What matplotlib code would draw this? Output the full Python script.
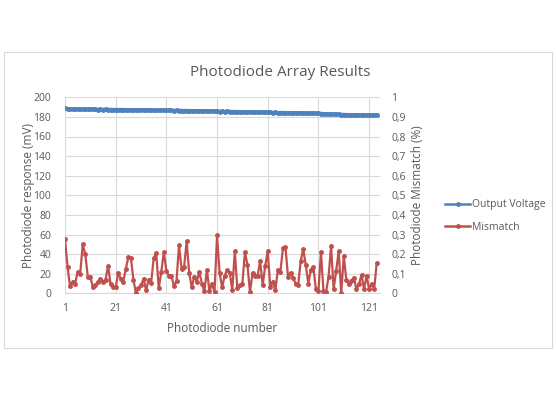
import numpy as np
import matplotlib.pyplot as plt
from matplotlib.patches import Rectangle
from matplotlib.lines import Line2D
from matplotlib.ticker import FuncFormatter

plt.rcParams['font.family'] = ['Open Sans', 'DejaVu Sans']

# --- data ---
output_voltage = [
    188.8, 188.3, 188.0, 187.9, 187.8, 187.8, 187.7, 187.8, 187.6, 187.7,
    187.6, 187.7, 187.6, 187.5, 187.6, 187.5, 187.6, 187.4, 187.5, 187.4,
    187.4, 187.3, 187.4, 187.3, 187.2, 187.3, 187.2, 187.1, 187.2, 187.0,
    187.1, 187.0, 186.9, 187.0, 186.8, 186.9, 186.7, 186.6, 186.8, 186.9,
    186.7, 186.6, 186.7, 186.5, 186.6, 186.4, 186.5, 186.3, 186.4, 186.3,
    186.2, 186.3, 186.1, 186.2, 186.0, 186.1, 185.9, 186.0, 185.8, 185.9,
    185.7, 185.5, 185.6, 185.4, 185.6, 185.5, 185.3, 185.4, 185.2, 185.3,
    185.1, 185.2, 185.0, 185.1, 184.9, 185.0, 184.8, 184.9, 184.7, 184.6,
    184.5, 184.6, 184.4, 184.5, 184.3, 184.4, 184.2, 184.3, 184.1, 184.2,
    184.0, 184.1, 183.9, 184.0, 183.8, 183.9, 183.7, 183.6, 183.7, 183.5,
    183.6, 183.4, 183.2, 183.0, 182.9, 182.8, 182.7, 182.6, 182.5, 182.4,
    182.3, 182.2, 182.2, 182.1, 182.0, 182.1, 181.9, 182.0, 181.9, 181.8,
    181.9, 181.8, 181.9, 182.0,
]

mismatch = [
    0.275, 0.135, 0.035, 0.06, 0.05, 0.11, 0.10, 0.25, 0.20, 0.085,
    0.085, 0.03, 0.04, 0.06, 0.075, 0.06, 0.07, 0.14, 0.045, 0.03,
    0.03, 0.105, 0.075, 0.06, 0.125, 0.185, 0.18, 0.07, 0.0, 0.025,
    0.04, 0.075, 0.015, 0.07, 0.055, 0.18, 0.205, 0.025, 0.11, 0.21,
    0.115, 0.09, 0.09, 0.035, 0.065, 0.245, 0.125, 0.135, 0.265, 0.105,
    0.03, 0.085, 0.06, 0.11, 0.05, 0.01, 0.12, 0.01, 0.05, 0.005,
    0.295, 0.105, 0.03, 0.09, 0.12, 0.105, 0.015, 0.215, 0.025, 0.04,
    0.05, 0.21, 0.145, 0.005, 0.105, 0.09, 0.09, 0.165, 0.04, 0.14,
    0.215, 0.03, 0.06, 0.015, 0.12, 0.11, 0.23, 0.235, 0.085, 0.105,
    0.08, 0.05, 0.04, 0.165, 0.225, 0.145, 0.05, 0.12, 0.135, 0.02,
    0.01, 0.21, 0.01, 0.005, 0.085, 0.24, 0.02, 0.115, 0.215, 0.0,
    0.19, 0.07, 0.045, 0.065, 0.08, 0.02, 0.045, 0.095, 0.02, 0.09,
    0.02, 0.05, 0.02, 0.155,
]

photodiode = np.arange(1, len(output_voltage) + 1)
x_ticks = [1, 21, 41, 61, 81, 101, 121]

blue = '#4F81BD'
red = '#C0504D'
grey = '#595959'
grid = '#D9D9D9'

fig = plt.figure(figsize=(5.56, 4), dpi=100)
fig.patches.append(Rectangle((3.5 / 556, 1 - 348 / 400), 548.5 / 556, 296 / 400,
                             transform=fig.transFigure, fill=False,
                             edgecolor=grid, linewidth=0.8))

ax = fig.add_axes([65 / 556, 1 - 293.3 / 400, 315 / 556, 196 / 400])
ax2 = ax.twinx()

ax.plot(photodiode, output_voltage, color=blue, linewidth=2.6,
        marker='o', markersize=2.5, zorder=3)
ax2.plot(photodiode, mismatch, color=red, linewidth=1.6,
         marker='o', markersize=2.5, zorder=3)

ax.set_xlim(1, 125.3)
ax.set_ylim(0, 200)
ax.set_yticks(range(0, 201, 20))
ax.set_xticks(x_ticks)
ax2.set_ylim(0, 1)
ax2.set_yticks(np.arange(0, 1.01, 0.1))


def comma_fmt(v, pos):
    if abs(v) < 1e-9:
        return '0'
    if abs(v - 1) < 1e-9:
        return '1'
    return f'{v:.1f}'.replace('.', ',')


ax2.yaxis.set_major_formatter(FuncFormatter(comma_fmt))

ax.grid(True, color=grid, linewidth=0.8)
ax.set_axisbelow(True)
for a in (ax, ax2):
    for s in a.spines.values():
        s.set_visible(False)
    a.tick_params(length=0, labelsize=7.5, colors=grey)
ax.spines['bottom'].set_visible(True)
ax.spines['bottom'].set_color(grid)
ax.tick_params(axis='y', pad=10)
ax.tick_params(axis='x', pad=7)
ax2.tick_params(axis='y', pad=8)

ax.set_xlabel('Photodiode number', fontsize=8.5, color=grey, labelpad=6)
ax.set_ylabel('Photodiode response (mV)', fontsize=8.5, color=grey, labelpad=-1)
ax2.set_ylabel('Photodiode Mismatch (%)', fontsize=8.5, color=grey, labelpad=4)

fig.text(280 / 556, 1 - 72 / 400, 'Photodiode Array Results', fontsize=11,
         color=grey, ha='center', va='center')

# legend shows thin lines with small dots, like the original
handles = [
    Line2D([], [], color=blue, linewidth=1.8, marker='o', markersize=2.5),
    Line2D([], [], color=red, linewidth=1.8, marker='o', markersize=2.5),
]
fig.legend(handles=handles, labels=['Output Voltage', 'Mismatch'],
           loc='center left', bbox_to_anchor=(436 / 556, 1 - 216 / 400),
           frameon=False, fontsize=7.5, labelcolor=grey, handlelength=2.4,
           handletextpad=0.15, labelspacing=1.1)

fig.savefig('out.png', dpi=100)
